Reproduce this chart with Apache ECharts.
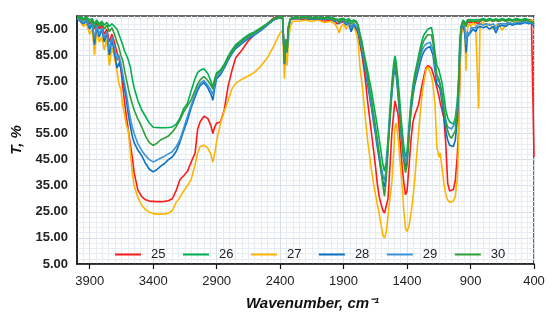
<!DOCTYPE html>
<html>
<head>
<meta charset="utf-8">
<script src="https://cdn.jsdelivr.net/npm/echarts@6/dist/echarts.min.js"></script>
<style>
html,body{margin:0;padding:0;background:#fff;}
#chart{width:550px;height:320px;}
</style>
</head>
<body>
<div id="chart"></div>
<script>
// Wavenumber (cm-1), shared by all series
var wavenumbers = [
  4000,3975,3950,3925,3900,3880,3862,3845,3825,3805,3785,3765,3745,3725,3705,3685,
  3670,3655,3640,3625,3610,3595,3580,3565,3550,3520,3490,3460,3430,
  3400,3370,3340,3310,3280,3250,3220,3190,3160,3130,3100,
  3070,3050,3030,3000,2970,2945,2930,2915,2900,2870,
  2840,2810,2780,2750,2700,2650,2600,2550,2500,2450,2400,
  2380,2366,2355,2345,2335,2320,2300,
  2250,2200,2150,2100,2050,2000,1970,1950,1935,1920,1900,1880,1860,1840,1820,1800,
  1785,1770,1755,1740,1725,1710,1695,1680,1665,1650,1635,1620,1605,1590,1578,1565,1550,1535,1520,1505,1495,
  1485,1470,1455,1440,1425,1412,1400,1385,1370,1355,1340,1325,1310,1295,1280,1265,1250,1235,1220,1208,
  1195,1180,1165,1150,1140,1125,1110,1095,1080,1065,1050,1035,1020,1005,995,985,975,960,
  945,935,925,910,895,880,860,845,836,825,800,775,750,720,700,680,650,620,600,570,540,500,470,440,420,405,400
];

var t25 = [
  99.5,99,98.5,99,97,98,95,97.5,95,96.5,93,95,90,93,90,86,
  84,80,73,67,61,56,51,46,40,33.3,30.8,29.6,29.1,
  29,28.9,28.9,29,29.2,30,33,37.2,38.8,40.5,44.1,
  47.5,56.5,59.5,61.6,60.8,58,55,57.5,59,59.4,
  64,73,79,84,87,90.5,93,95.3,97,99.3,99.5,
  99,84,91,88,95,98.5,99,
  99,98.5,99,98.5,98,98.5,98,97,96.5,97.5,98,97,97.5,96,97,95.5,
  93,89,85,80,74,67,61,55,49,43,36,31,28,25.5,24.5,24,30,42,55,63,67.5,
  68,62,52,43,36,31.5,33,42,52,59,62,64,66,70,74,77.5,80.2,81,80.5,80,
  78,75.5,72.5,69.5,67,64,61,51,36,33,32.7,33.5,37,46,55,75,92,98,
  97.5,96,97.5,98,97.5,98,97.5,98,97,98,98.5,98,98.5,98,98.5,98,98.5,98,98.5,98.5,98.5,98.5,98.5,98.5,98.5,98,46
];

var t26 = [
  100,99.5,99,99.5,98.5,99,97,98.5,97,98,96.5,97.5,96,97,96,95,
  93,91,89,86.5,85,83,80.5,76,72.5,67.5,64,61.5,59,
  57.4,57.3,57.2,57.2,57.3,57.5,58.5,60.8,64.5,66.5,71.5,
  76,78.3,79.2,79.8,78,75,72.7,76,78.3,79.3,
  81.5,84.5,87,89,91,92.8,94,95.5,97.2,99,99.7,
  99.5,82.5,91,87,96,99,99.5,
  99.5,99.6,99.4,99.5,99.3,99.5,99,98.5,98,99,99,98.5,99,98,98.5,98,
  96.5,93,90,86,82.5,79,75,71.5,67,62.5,58,53,48,43,40.5,44,53,64,74,82,84.7,
  82,75,66,57,50,46,48,58,67,73,77.5,81,84.5,88,91,93,94,95,95.5,95.6,
  92.3,86,81,79.5,79,74.5,69.5,64,61,59.5,58.8,58.6,61,67,75,89,96,98.5,
  98.5,97,98.5,99,98.5,99,98.5,99,98.5,99,99,98.5,99,98.5,99,98.5,99,98.5,99,98.5,99,98.5,99,98.5,98,97.5,97
];

var t27 = [
  99,98,96,97,93,95,85,94,90,92,87,91,81,88,84,79,
  74,72,66,62,58,56,48,40,35,30.5,27.5,25.8,24.8,
  24.3,24.1,24.1,24.2,24.5,25.4,28.5,30.5,33,35,37.5,
  43,47.5,50,50.5,49.5,47,44,47.5,52,59,
  63.5,67.5,72,74.2,75.8,77,78.5,80.9,84,88.5,93.5,
  94.5,76,86,81,90,96,98,
  98,98.5,98,98.5,97.5,98,97,95.5,93.5,96,97,95,96.5,94.5,96,93.5,
  90,80,74,67,59,52,46.5,41,36,32,28,24.5,20,16,15,16.8,23.5,30,36,48,57,
  59,53,44,36,25,18.5,17.5,19.5,24,29.5,37,46,55,63.5,70.5,75.5,79.5,80.5,80,77,
  73.5,66,50,46,47.5,42,36,31.5,29.5,28.7,28.3,29,31,37,50,77,92,98,
  96,79,95,97,96,97.5,96.5,97,64.5,97,97.5,96.5,97,95,96.5,97,94.5,97,97.5,97,98,97.5,98,98,98.5,98,98
];

var t28 = [
  99,98,97,98,95,97,89,96,92,95,90,93.5,85,91,86,80,
  82,80,76,72,67.5,62,58,54,51.5,48.6,46.5,43.5,41.3,
  40.3,41.2,42.5,43.5,45,46,48,51.5,56,60,65,
  69,71.5,73.3,74.5,72.5,70,67.7,72.5,76,77.5,
  80,83,85.5,87.5,89.5,91.3,92.8,94.5,96.5,98.5,99.3,
  99,81.5,90,86,95,98.5,99,
  99,99.2,98.8,99,98.7,99,98,98.5,97,98.5,98,96.5,97.5,94,97,95,
  94,90,86.5,82,78,73.5,69,64.5,59.5,55,50,45.5,40.5,36.5,34.5,39,50,60,70,77.5,79.5,
  77,69,60,51,45,42,44.5,54,63,69,73.5,76.5,79.5,82.5,85,86.5,87.5,88.2,88.3,88,
  85,79,74,73,72,67,61.5,56,52.5,50.5,49.8,50,52.5,60,70,85,94.5,97,
  93,86,92,91.5,94,95,94,95.5,95,96,95.5,96,95,96,93.5,96,96.5,96,97,96.5,97,97,97.5,97,97.5,97,96
];

var t29 = [
  99,98.5,97.5,98.5,96,97.5,91,96.5,93,95.5,91.5,94,87,92,88,83,
  85,82,78,74,70,65,61,57.5,55,51,48.5,46.5,45,
  44.1,44.8,45.6,46.3,47.2,48,49.9,52.5,57,61.5,66,
  70,72.5,74.2,75.3,73.5,71.5,70,74,77,78,
  80.5,83.5,86,88,90,91.8,93.2,94.8,96.8,98.6,99.4,
  99.2,82,90.5,86.5,95.2,98.6,99.2,
  99.2,99.3,99,99.2,98.9,99.1,98.3,98.6,97.3,98.6,98.4,97,98,95.5,97.3,96,
  95,91,87.5,83.5,79.5,75,70.5,66,61,56.5,51.5,47,42.5,39,37,41,51.5,62,72,79,81,
  78.5,71,62,53,47,44,46.5,56,65,71,75,78.5,81.5,84.5,87,88.5,89.3,89.9,90,89.7,
  87,81,76,75,74,69,64,60,57.5,56.8,56.7,57,59,65.5,73.5,87,95,97.5,
  95,89,94,93,95.5,96,95.5,96.5,96,97,96.5,97,96.5,97,95,97,97,97,97.5,97,97.5,97.5,98,97.5,97.5,97.5,97
];

var t30 = [
  99.5,99,98.5,99,97.5,98.5,95.5,98,96,97.5,95,96.5,94,95.5,93,90,
  88,85,83,79,75.5,72,69,66.5,64,60.5,57.5,54,51.5,
  50.4,51.3,52.6,53.3,54,55.5,57.5,60,63.3,65.5,68,
  71.5,74,75.5,76.8,75.3,73.5,72,75.5,77.7,78.8,
  81,84,86.3,88.3,90.5,92.3,93.6,95.2,97,98.8,99.5,
  99.3,82,90.5,86.5,95.5,98.8,99.3,
  99.3,99.4,99.2,99.3,99,99.2,98.5,98.8,97.5,98.7,98.8,97.5,98.5,97,98,97.5,
  96,92.5,89,85,81,77,72.5,68,63,58,53,47.5,41,35,31,37,49,61,72,80,82.5,
  80,72,62,52,44,40,43,54,64,71,76,80,83,86,89,90.8,92,92.8,93,92.8,
  89.5,83,77.5,76,75.5,70.5,65,59.5,56,54,53.2,53.5,56,63,72,87,95.5,98,
  98,96,98,98.5,98,98.5,98,98.5,98,98.5,98.5,98,98.5,98,98.5,98,98.5,98,98.5,98,98.5,98,98.5,98,98,97.5,97
];

var seriesNames = ['25','26','27','28','29','30'];
var seriesValues = [t25, t26, t27, t28, t29, t30];
var seriesColors = ['#FF1A1A','#00B050','#FFB400','#0A70C0','#3C94D8','#2E9E35'];

var xTickValues = [3900,3400,2900,2400,1900,1400,900,400];
var yTickValues = [5,15,25,35,45,55,65,75,85,95];

var chart = echarts.init(document.getElementById('chart'), null, {renderer:'canvas'});

var series = seriesNames.map(function(name, k){
  return {
    name: name,
    type: 'line',
    showSymbol: false,
    symbol: 'none',
    animation: false,
    lineStyle: {width: 1.6, color: seriesColors[k]},
    itemStyle: {color: seriesColors[k]},
    data: wavenumbers.map(function(w, i){ return [w, seriesValues[k][i]]; })
  };
});

var option = {
  animation: false,
  backgroundColor: '#ffffff',
  textStyle: {fontFamily: 'Liberation Sans, Arial, sans-serif'},
  grid: {
    left: 77, right: 16, top: 16, bottom: 56,
    show: true, borderColor: '#3a3a3a', borderWidth: 1.5, backgroundColor: 'transparent'
  },
  legend: {
    data: seriesNames,
    left: 115, top: 248, padding: 0,
    icon: 'rect', itemWidth: 26, itemHeight: 2, itemGap: 17.5,
    textStyle: {fontSize: 13, color: '#222', padding: [0,0,0,5]}
  },
  xAxis: {
    type: 'value', inverse: true, min: 400, max: 4000, interval: 500,
    name: 'Wavenumber, cm\u207B\u00B9', nameLocation: 'middle', nameGap: 32,
    nameTextStyle: {fontSize: 15, fontWeight: 'bold', fontStyle: 'italic', color: '#111', padding: [0,0,0,14]},
    axisLine: {show: true, onZero: false, lineStyle: {color: '#111', width: 1.5}},
    axisTick: {show: true, length: 5, customValues: xTickValues, lineStyle: {color: '#111', width: 1.2}},
    axisLabel: {customValues: xTickValues, fontSize: 13, color: '#222', margin: 11,
      formatter: function(v){ return String(Math.round(v)); }},
    splitLine: {show: true, lineStyle: {color: '#d6dfe7', width: 1}},
    minorTick: {show: false, splitNumber: 10},
    minorSplitLine: {show: true, lineStyle: {color: '#e6edf2', width: 1}}
  },
  yAxis: {
    type: 'value', min: 5, max: 100, interval: 10,
    name: 'T, %', nameLocation: 'middle', nameGap: 47,
    nameTextStyle: {fontSize: 15, fontWeight: 'bold', fontStyle: 'italic', color: '#111'},
    axisLine: {show: true, onZero: false, lineStyle: {color: '#111', width: 1.5}},
    axisTick: {show: false, customValues: yTickValues},
    axisLabel: {customValues: yTickValues, fontSize: 13, fontWeight: 'bold', color: '#222', margin: 9,
      formatter: function(v){ return Number(v).toFixed(2); }},
    splitLine: {show: true, lineStyle: {color: '#d6dfe7', width: 1}},
    minorTick: {show: false, splitNumber: 5},
    minorSplitLine: {show: true, lineStyle: {color: '#e6edf2', width: 1}}
  },
  series: series
};

chart.setOption(option);
</script>
</body>
</html>
